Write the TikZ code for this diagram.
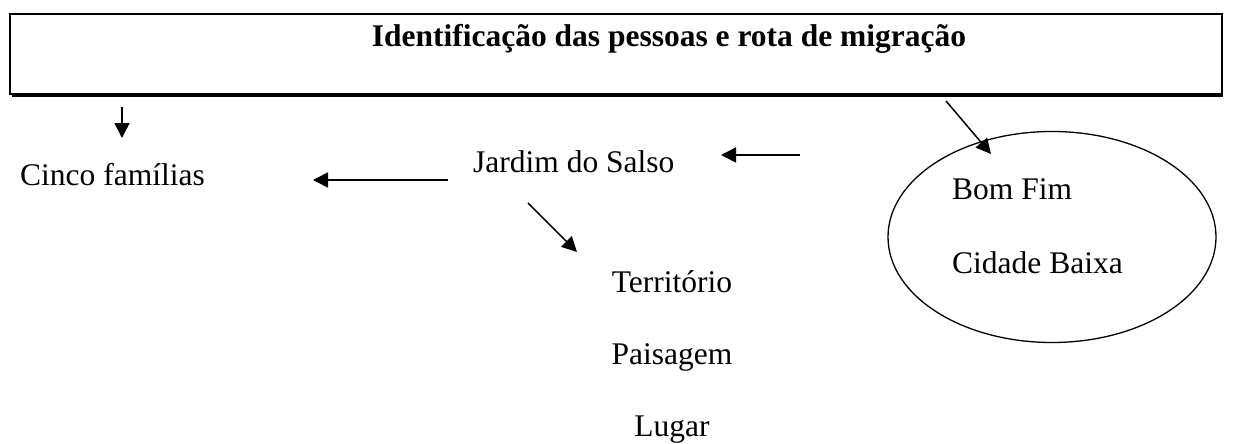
\documentclass[tikz,border=0pt]{standalone}
\usepackage{fontspec}
\setmainfont{Liberation Serif}
\usetikzlibrary{arrows.meta,shapes.geometric}
\begin{document}
\begin{tikzpicture}[x=1pt,y=-1pt,
  lbl/.style={inner sep=0pt,font=\fontsize{31.5}{38}\selectfont},
  arr/.style={line width=1.5pt,-{Triangle[length=15pt,width=15pt]}},
  titlebox/.style={draw,line width=2pt,minimum width=1212pt,minimum height=80pt,inner sep=0pt}]
\useasboundingbox (0,0) rectangle (1250,444);
% shadow under box
\draw[line width=2.5pt] (12,96) -- (1223,96);
\node[titlebox,fill=white] (box) at (616,54) {};
\node[lbl,anchor=base,font=\fontsize{31.5}{38}\selectfont\bfseries] (title) at (669,47) {Identificação das pessoas e rota de migração};
\node[lbl,anchor=base west] (cinco) at (20,185) {Cinco famílias};
\node[lbl,anchor=base west] (jardim) at (473,172) {Jardim do Salso};
\node[lbl,anchor=base] (terr) at (672,292) {Território};
\node[lbl,anchor=base] (pais) at (672,364) {Paisagem};
\node[lbl,anchor=base] (lugar) at (672,436) {Lugar};
\node[draw,ellipse,line width=1.3pt,minimum width=328pt,minimum height=211pt,inner sep=0pt] (bairros) at (1052,237) {};
\node[lbl,anchor=base west] (bomfim) at (952,199) {Bom Fim};
\node[lbl,anchor=base west] (cidade) at (952,273) {Cidade Baixa};
% arrow end points
\coordinate (a1s) at (122,107); \coordinate (a1e) at (122,138);
\coordinate (a2s) at (448,180); \coordinate (a2e) at (313,180);
\coordinate (a3s) at (800,155); \coordinate (a3e) at (721,155);
\coordinate (a4s) at (528,203); \coordinate (a4e) at (577,252);
\coordinate (a5s) at (946,101); \coordinate (a5e) at (991,154);
\draw[arr] (a1s) -- (a1e);
\draw[arr] (a2s) -- (a2e);
\draw[arr] (a3s) -- (a3e);
\draw[arr] (a4s) -- (a4e);
\draw[arr] (a5s) -- (a5e);
\end{tikzpicture}
\end{document}
